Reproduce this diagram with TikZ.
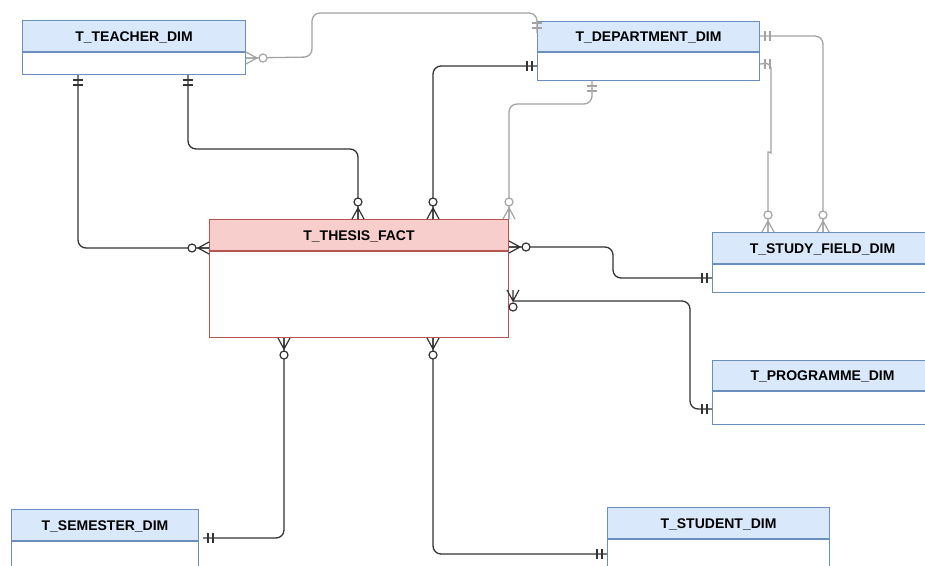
\documentclass[tikz,border=0pt]{standalone}
\usepackage{fontspec}
\setmainfont{Liberation Sans}
\definecolor{bfill}{HTML}{DAE8FC}
\definecolor{bline}{HTML}{6C8EBF}
\definecolor{rfill}{HTML}{F8CECC}
\definecolor{rline}{HTML}{B85450}
\definecolor{dk}{HTML}{333333}
\definecolor{gr}{HTML}{A3A3A3}
\begin{document}
\begin{tikzpicture}[x=1pt,y=-1pt,
  hdr/.style={draw=bline,fill=bfill,line width=1pt,minimum height=31pt,inner sep=0pt,anchor=north west,text height=10pt,text depth=0pt,font=\fontsize{14}{16}\selectfont\bfseries},
  bdy/.style={draw=bline,fill=white,line width=1pt,inner sep=0pt,anchor=north west},
  fhdr/.style={hdr,draw=rline,fill=rfill},
  fbdy/.style={bdy,draw=rline},
  rel/.style={draw=dk,line width=1.3pt,rounded corners=8pt},
  grel/.style={rel,draw=gr},
  mk/.style={color=dk,line width=1.2pt},
  gmk/.style={color=gr,line width=1.2pt},
  pics/zmany/.style={code={\draw (0,-6)--(11,0)--(0,6) (0,0)--(11,0); \draw[fill=white] (17,0) circle[radius=4pt];}},
  pics/one/.style={code={\draw (5,-5)--(5,5) (10,-5)--(10,5);}},
]
\useasboundingbox (0,0) rectangle (925,565);
\clip (0,0) rectangle (925,565);

% entities
\node[hdr,minimum width=223pt] (teacher) at (22,20) {T\_TEACHER\_DIM};
\node[bdy,minimum width=223pt,minimum height=22pt] (teacherb) at (teacher.south west) {};
\node[hdr,minimum width=222pt,minimum height=30pt] (dept) at (537,21) {T\_DEPARTMENT\_DIM};
\node[bdy,minimum width=222pt,minimum height=28pt] (deptb) at (dept.south west) {};
\node[fhdr,minimum width=299pt] (fact) at (209,219) {T\_THESIS\_FACT};
\node[fbdy,minimum width=299pt,minimum height=86pt] (factb) at (fact.south west) {};
\node[hdr,minimum width=220pt] (study) at (712,232) {T\_STUDY\_FIELD\_DIM};
\node[bdy,minimum width=220pt,minimum height=28pt] (studyb) at (study.south west) {};
\node[hdr,minimum width=220pt,minimum height=30pt] (prog) at (712,360) {T\_PROGRAMME\_DIM};
\node[bdy,minimum width=220pt,minimum height=33pt] (progb) at (prog.south west) {};
\node[hdr,minimum width=187pt] (sem) at (11,509) {T\_SEMESTER\_DIM};
\node[bdy,minimum width=187pt,minimum height=40pt] (semb) at (sem.south west) {};
\node[hdr,minimum width=222pt] (stud) at (607,507) {T\_STUDENT\_DIM};
\node[bdy,minimum width=222pt,minimum height=40pt] (studb) at (stud.south west) {};

% 1 teacher -> department (gray)
\draw[grel] ([yshift=-6pt]teacherb.north east) -- (312,57) -- (312,13) -- (537,13) -- ([yshift=-12pt]dept.north west);
\pic[gmk] at ([yshift=-6pt]teacherb.north east) {zmany};
\pic[gmk,rotate=90] at ([yshift=-12pt]dept.north west) {one};

% 2 department -> fact
\draw[rel] ([yshift=-14pt]deptb.north west) -| ([xshift=224pt]fact.north west);
\pic[mk,rotate=180] at ([yshift=-14pt]deptb.north west) {one};
\pic[mk,rotate=90] at ([xshift=224pt]fact.north west) {zmany};

% 3 department bottom -> fact top right (gray)
\draw[grel] ([xshift=55pt]deptb.south west) -- ++(0,23) -| (fact.north east);
\pic[gmk,rotate=270] at ([xshift=55pt]deptb.south west) {one};
\pic[gmk,rotate=90] at (fact.north east) {zmany};

% 4a department -> study field (gray)
\draw[grel] ([yshift=-15pt]dept.north east) -| ([xshift=111pt]study.north west);
\pic[gmk] at ([yshift=-15pt]dept.north east) {one};
\pic[gmk,rotate=90] at ([xshift=111pt]study.north west) {zmany};

% 4b department -> study field (gray)
\draw[grel,rounded corners=5pt] ([yshift=-12pt]deptb.north east) -- (771,63) -- (771,148) .. controls (771,153) and (768,151) .. (768,157) -- ([xshift=56pt]study.north west);
\pic[gmk] at ([yshift=-12pt]deptb.north east) {one};
\pic[gmk,rotate=90] at ([xshift=56pt]study.north west) {zmany};

% 5 teacher -> fact left
\draw[rel] ([xshift=56pt]teacherb.south west) |- ([yshift=-29pt]fact.north west);
\pic[mk,rotate=270] at ([xshift=56pt]teacherb.south west) {one};
\pic[mk,rotate=180] at ([yshift=-29pt]fact.north west) {zmany};

% 6 teacher -> fact top
\draw[rel] ([xshift=166pt]teacherb.south west) -- ++(0,74) -| ([xshift=149pt]fact.north west);
\pic[mk,rotate=270] at ([xshift=166pt]teacherb.south west) {one};
\pic[mk,rotate=90] at ([xshift=149pt]fact.north west) {zmany};

% 7 fact -> study field
\draw[rel] ([yshift=-28pt]fact.north east) -- ++(104,0) |- ([yshift=-14pt]studyb.north west);
\pic[mk] at ([yshift=-28pt]fact.north east) {zmany};
\pic[mk,rotate=180] at ([yshift=-14pt]studyb.north west) {one};

% 8 fact -> programme
\draw[rel] ([xshift=4pt,yshift=-82pt]fact.north east) -- ++(177,0) |- ([yshift=-18pt]progb.north west);
\pic[mk,rotate=270] at ([xshift=4pt,yshift=-71pt]fact.north east) {zmany};
\pic[mk,rotate=180] at ([yshift=-18pt]progb.north west) {one};

% 9 fact -> semester
\draw[rel] ([xshift=75pt]factb.south west) |- ([xshift=4pt,yshift=3pt]sem.south east);
\pic[mk,rotate=270] at ([xshift=75pt]factb.south west) {zmany};
\pic[mk] at ([xshift=4pt,yshift=3pt]sem.south east) {one};

% 10 fact -> student
\draw[rel] ([xshift=224pt]factb.south west) |- ([yshift=-15pt]studb.north west);
\pic[mk,rotate=270] at ([xshift=224pt]factb.south west) {zmany};
\pic[mk,rotate=180] at ([yshift=-15pt]studb.north west) {one};
\end{tikzpicture}
\end{document}
